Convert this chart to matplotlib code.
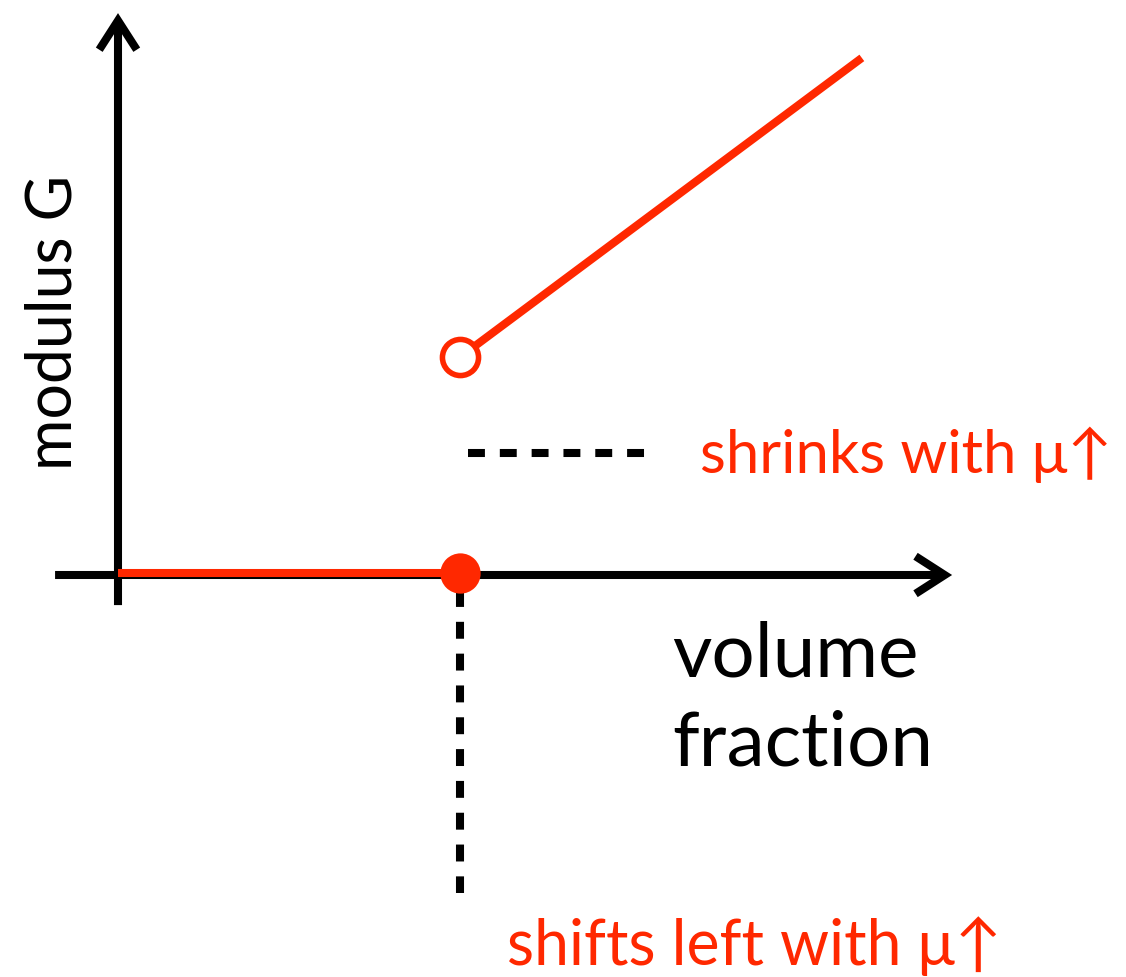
import matplotlib
matplotlib.use("Agg")
import matplotlib.pyplot as plt
from matplotlib.patches import FancyArrowPatch
import matplotlib.transforms as mtransforms

# ---- data (arbitrary units; jamming point phi_J = 1) ----
phi_below = [0.0, 1.0]          # volume fraction, unjammed branch
G_below = [0.0, 0.0]            # modulus, unjammed branch
phi_above = [1.0, 2.175]        # volume fraction, jammed branch
G_above = [0.637, 1.512]        # modulus, jammed branch
phi_J = 1.0
G_jump = 0.637

# axis extents
x_axis = [-0.184, 2.439]
y_axis = [-0.088, 1.643]
# guide lines
gap_guide_x = [1.023, 1.541]
gap_guide_y = 0.357
shift_guide_y = [-0.044, -0.930]

labels = {
    "ylabel": "modulus G",
    "xlabel1": "volume",
    "xlabel2": "fraction",
    "gap": "shrinks with μ↑",
    "shift": "shifts left with μ↑",
}

RED = "#FF2800"
FONT = ["Lato", "DejaVu Sans"]

fig = plt.figure(figsize=(11.26, 9.77), dpi=100)
ax = fig.add_axes([0, 0, 1, 1])
ax.set_xlim(-118 / 342, (1126 - 118) / 342)
ax.set_ylim((575 - 977) / 342, 575 / 342)
ax.axis("off")

LW = 5.8  # ~8 px

# axes arrows
for (xs, ys) in [(x_axis, [0, 0]), ([0, 0], y_axis)]:
    arr = FancyArrowPatch((xs[0], ys[0]), (xs[1], ys[1]),
                          arrowstyle="->,head_length=2.1,head_width=1.35",
                          mutation_scale=10, lw=LW, color="black",
                          shrinkA=0, shrinkB=0, capstyle="butt",
                          joinstyle="miter", zorder=2)
    ax.add_patch(arr)

# red branches
up2 = mtransforms.offset_copy(ax.transData, fig=fig, x=0, y=2.5, units="dots")
ax.plot(phi_below, G_below, color=RED, lw=LW, solid_capstyle="butt",
        transform=up2, zorder=3)
ax.plot(phi_above, G_above, color=RED, lw=LW, solid_capstyle="butt", zorder=3)

# dashed guides
ax.plot(gap_guide_x, [gap_guide_y, gap_guide_y], color="black", lw=LW,
        dashes=(2.1, 1.85), dash_capstyle="butt", zorder=2)
ax.plot([phi_J, phi_J], shift_guide_y, color="black", lw=LW,
        dashes=(2.1, 1.85), dash_capstyle="butt", zorder=2)

# markers
ax.plot([phi_J], [G_jump], marker="o", ms=26, mfc="white", mec=RED,
        mew=4, zorder=4)
ax.plot([phi_J], [0], marker="o", ms=29, mfc=RED, mec=RED, mew=0,
        transform=up2, zorder=4)

# texts
ax.text(-0.135, 0.307, labels["ylabel"], rotation=90, rotation_mode="anchor",
        ha="left", va="baseline", fontsize=45, family=FONT, color="black")
ax.text(1.620, -0.298, labels["xlabel1"], ha="left", va="baseline",
        fontsize=55, family=FONT, color="black")
ax.text(1.620, -0.556, labels["xlabel2"], ha="left", va="baseline",
        fontsize=55, family=FONT, color="black")
ax.text(1.702, 0.298, labels["gap"], ha="left", va="baseline",
        fontsize=43, family=FONT, color=RED)
ax.text(1.137, -1.140, labels["shift"], ha="left", va="baseline",
        fontsize=45, family=FONT, color=RED)

fig.savefig("out.png", dpi=100, facecolor="white")
